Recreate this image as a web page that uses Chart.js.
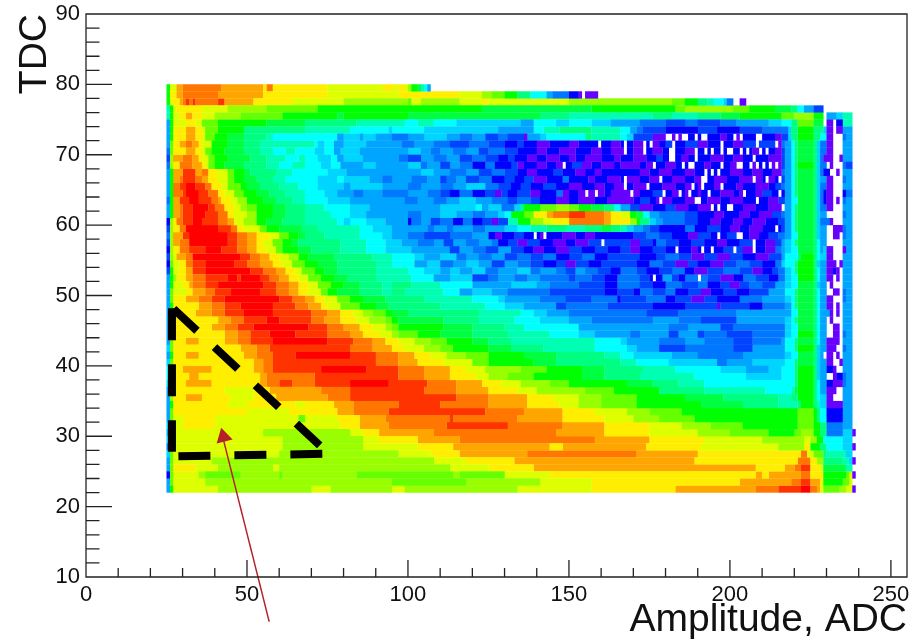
<!DOCTYPE html>
<html>
<head>
<meta charset="utf-8">
<title>TDC vs Amplitude</title>
<script src="https://cdn.jsdelivr.net/npm/chart.js@4/dist/chart.umd.min.js"></script>
<style>
body { margin: 0; background: #fff; }
canvas { display: block; }
</style>
</head>
<body>
<canvas id="chart" width="911" height="644"></canvas>
<script>
// colour level of each cell (a = lowest, s = highest)
const levelNames = "abcdefghijklmnopqrs".split("");
const levelColors = ["#6600ff","#0000ff","#0044ff","#0077ff","#00a5ff","#00d5ff","#00ffff","#00ffb3","#00ff80","#00ff40",
  "#00ff00","#66ff00","#99ff00","#ddff00","#ffee00","#ffa500","#ff7700","#ff3300","#ff0000"];

// TDC bins, top row first
const tdcBins = [79,78,77,76,75,74,73,72,71,70,69,68,67,66,65,64,63,62,61,60,59,58,57,56,55,54,53,52,51,
  50,49,48,47,46,45,44,43,42,41,40,39,38,37,36,35,34,33,32,31,30,29,28,27,26,25,24,23,22];

// one string per TDC bin: level letter + amplitude where that level starts, "_" = empty
const rowRuns = [
"k25 n26 p28 q30 p42 o55 q56 o58 n75 o92 n96 o97 n99 m100 k101 j103 h104 g105 e106 _107",
"k25 o26 p28 q30 p41 o55 n75 o97 n116 m123 l126 k130 i134 g138 e143 d145 b150 a153 _154 a155 _159",
"k25 n26 o27 p29 q30 r31 q32 r33 q34 r41 p43 o52 n64 m80 l100 n101 m104 n116 o123 n125 m150 l182 k186 i190 h193 g195 f198 d199 _201 a203 _205",
"h25 k26 n27 o28 n36 m44 l56 k72 j123 k157 l183 m186 l201 k206 j214 i219 g221 e223 c226 _229",
"h25 k26 n27 o29 p31 o33 n36 m40 l48 k61 j78 k80 j100 i141 h150 i176 h182 i190 j197 k203 l216 m220 k226 _229 e230 f233 h235 _238",
"e25 k26 n27 o31 n34 l36 k41 j56 i68 h84 g99 h103 g108 f115 e135 g139 f146 g150 f157 e163 d172 c180 d186 c190 d197 e202 f212 g216 i219 l221 j226 _229 a230 _232 b233 h235 _238",
"e25 k26 o27 p31 o34 n36 l37 k41 i49 h68 g82 f94 g95 f105 e128 g139 h142 i147 h157 g166 e169 d171 c173 b180 c190 b196 c203 d210 f218 i219 k221 i226 f229 a230 _232 a233 e235 _238",
"e25 k26 o27 p31 o34 n36 l37 k40 j44 i49 h56 g58 e78 f80 e85 f86 e90 d95 e100 f105 e112 d116 e120 c124 d128 c131 a136 e137 f141 g143 i155 h157 g166 f168 c170 a176 _180 a182 _183 a184 _185 b187 _189 b190 _191 b193 a197 b199 _201 a202 _203 b204 _208 b210 a214 c216 f218 i219 k221 i226 g228 a230 _232 d235 e236 _238",
"e25 l26 o27 p29 q31 p33 o35 n36 k39 j44 i49 h54 g71 f72 g74 e77 f80 e87 d98 e102 d108 c113 d119 c125 b130 c134 b136 a140 b144 a150 b153 _159 b160 a163 b166 _167 b168 a170 _173 b174 _175 a176 b178 c180 _182 b183 c186 a190 b193 _197 b198 a201 c204 _208 c209 _214 a215 d216 e217 g219 i220 j221 i226 f227 d228 a230 _232 e235 _238",
"d25 l26 o27 p31 o34 n36 l37 k39 j43 i49 h54 g58 h62 g65 f71 g74 e77 f79 e85 f100 e104 d107 e110 d114 e118 c122 d125 c130 b134 a140 b143 a147 b152 a157 b160 a163 _167 b168 a170 _173 b174 a176 b179 _181 b183 a186 _189 b190 _192 b193 _194 b195 _197 b198 _199 b201 _203 b204 _205 b206 a207 _209 b210 _211 b212 a214 c216 e217 g219 i220 j221 i226 f227 d228 a230 _232 e235 _238",
"c25 m26 p27 q30 p33 o35 n36 l38 k40 j44 i51 h56 g62 h66 g68 f72 g76 e78 f80 e86 d97 c100 e104 d108 e112 c116 d120 c124 b128 c131 b133 a137 b140 a143 b147 a150 b152 a155 b160 a164 b166 a170 b174 c177 b179 _181 b183 a185 b187 _189 b190 a194 b198 a201 b204 _207 b208 a212 c216 e217 g219 i220 j221 i226 f227 d228 a229 _232 a234 e235 _238",
"d25 m26 o27 q29 p33 o36 n37 l38 k40 j43 i49 h56 g60 h64 g68 f73 g76 e79 f86 e90 f100 d104 e106 c110 e113 d116 b120 d124 b127 c132 a134 b136 a140 b143 a146 _148 b149 c151 a154 b157 a160 b164 a166 b172 a174 _176 b177 a180 b183 _185 b186 _187 b189 a192 b194 _197 b198 a200 _202 b204 _206 a207 _208 b209 _210 b211 _212 a213 _214 a215 c216 e217 g219 i220 k221 i226 f227 d228 _230 a231 _232 d235 c236 _238",
"e25 k26 p27 r30 p34 q36 o38 n41 l44 k46 j49 i51 h59 g64 f75 e81 e100 f104 e108 d113 e118 c122 d126 c130 b134 a137 b140 c145 b148 a152 b155 a158 b160 a172 b175 a178 b182 a186 b189 _192 b193 _194 b195 _196 b197 a200 b204 a207 b210 a213 d216 e217 g219 i220 j221 i226 f227 d228 b229 _231 a233 _234 e235 _238",
"e25 k26 p27 q29 r30 q34 p36 o38 n41 l44 k46 j49 i53 h58 g62 f72 g78 f80 e88 d92 e95 d101 e106 c110 d112 e115 c118 d122 b126 c130 b133 c136 a139 b143 d148 b150 a156 b158 a162 b166 _167 a168 b172 a175 _178 b179 a182 b186 a189 _191 b193 a195 b199 a203 _207 a208 b210 _211 a212 b214 _215 c216 e217 g219 i220 j221 i226 f227 e228 a230 _232 d235 e236 _238",
"e25 k26 q27 r29 s31 r34 q37 o39 n42 l44 k48 j50 i54 h60 g66 f72 e80 f82 e92 d100 e104 d110 e114 f118 d124 c128 b132 c135 b138 c142 b146 a150 b154 a158 b161 a164 _167 b168 a170 _174 b175 a179 b183 a186 _188 b189 a190 _191 b192 a195 _197 b198 a202 b204 a208 b212 c214 d216 e217 g219 i220 j221 i226 f227 d228 a230 _232 e235 _238",
"e25 k26 q27 r30 s31 r35 q38 o41 n43 l46 k49 j53 i57 h62 g68 f74 e78 d83 e86 d92 e100 d106 c110 b113 d116 b120 c124 a127 c129 b131 c134 a138 b141 d146 a148 b150 a153 _155 a156 _158 a159 b161 a163 _169 a170 b172 c176 _179 b180 a182 _184 b185 a186 _187 b188 a190 b191 _193 b194 a197 b201 a203 _204 b205 a208 c210 b213 _215 b216 e217 g219 i220 j221 i226 f227 d228 b229 a230 _232 b235 d236 _238",
"d25 k26 p27 r29 s32 r35 q39 p41 o42 n45 m47 k50 j55 i59 h64 g68 f75 e82 d99 e103 d108 e112 f116 e121 d126 c131 d134 c138 b141 a146 b150 a153 b158 a162 b170 c172 b175 a177 _178 a179 b182 a186 _189 b191 a193 b197 a200 b204 _208 b209 a212 c215 e217 g219 j221 i226 f227 d228 b229 a230 _232 a233 _234 d235 e236 _238",
"e25 k26 p27 q29 r30 s33 r38 q40 o43 n46 m48 l50 k53 j58 i62 h68 g74 f82 e88 f110 g121 e123 f125 d129 f133 i135 k136 l141 m146 l150 k153 j157 i161 g164 e166 c169 a172 b176 c180 a183 b187 a190 _194 b195 _196 b197 _199 b201 a204 b208 a212 _216 e217 g219 i220 j221 i226 f227 d228 a230 _232 e235 _238",
"e25 k26 p27 q29 r30 s33 r37 q41 o44 n46 m50 k53 j58 i62 h68 g76 f82 e87 d100 e104 f110 e115 d120 e124 f128 g130 k132 l136 o139 p143 q145 r150 q155 p161 o163 n166 k169 j171 g173 e175 d178 c186 b190 a195 b198 a203 b206 a209 c213 d216 e217 g219 i220 j221 i226 f227 e228 _230 d235 e236 _238",
"b25 m26 o27 q28 r30 s33 r36 q41 p44 n46 m49 k53 j56 i61 h68 g78 f80 g82 f87 e93 b100 d101 e104 c107 d110 b114 d117 b120 c123 a126 c128 h131 k134 m138 n142 o145 q150 p161 o163 m169 k171 i172 f175 e177 d179 c186 b190 a194 b197 a201 b204 a207 b211 c215 e217 g219 i220 j221 i226 f227 d228 a231 _232 e235 _238",
"c25 m26 o27 q29 s31 r41 q45 o47 n49 l54 k56 j60 i67 h72 g85 f89 e95 d106 e108 d112 e114 d120 e124 f130 g134 h138 i143 h149 i155 j160 i163 h166 f168 e170 d173 c175 b178 d186 b189 c193 b197 a200 b203 a206 b210 _214 b215 c216 e217 g219 i220 j221 i226 f227 e228 _230 a232 d235 e236 _238",
"d25 m26 p27 r30 s32 r44 q47 p50 o53 n57 l60 k63 j66 i68 h74 g85 f92 e95 d100 c105 d113 e120 b125 a127 b129 c133 b136 _139 b140 a141 _142 b143 a148 b152 a155 b158 c170 d174 c178 b182 a187 c190 b194 _196 b197 c199 _202 b204 a206 b209 c212 d215 e217 g219 j221 i226 f227 e228 _230 a232 _234 d235 e236 _238",
"c25 m26 p27 q29 s32 r44 q47 p50 o53 n55 l58 k61 j64 i66 h79 g87 f93 e98 d103 e108 c111 e114 d118 e122 d126 b128 c131 a134 c137 b141 a145 b149 a152 c156 _160 c161 a169 c172 b176 d177 c180 b184 c188 b192 a196 b199 c203 _207 b208 a211 c214 e216 f217 g219 i220 j221 i226 g227 e228 _230 e235 _238",
"b25 m26 o27 q29 r32 s37 r42 q47 p50 o53 n56 l59 k61 j66 i70 h79 g87 f93 e101 e108 c113 e116 d120 c124 e128 c132 b136 a139 b142 a146 c150 b154 c158 b162 c166 a169 b172 c176 b180 _183 b184 a188 b190 _191 b192 _194 b195 c198 _201 c202 a204 _207 b208 a211 d214 e216 f217 g219 j221 i226 g227 e228 f229 a230 _232 a235 e236 _238",
"c25 m26 n27 p28 q31 s33 r48 q51 p54 o57 n60 m63 k66 j69 i77 h89 g95 f102 e105 f110 d115 e118 d122 e126 c130 d134 c138 d142 b146 c150 d154 b158 c162 b172 c177 d180 c184 a188 c192 a196 c200 b204 a208 c212 e216 g217 i221 k222 i226 g227 f228 a230 _232 e235 _238",
"b25 l26 n27 o29 q31 r33 s37 r46 q50 p54 o58 n61 l64 k68 j72 i78 h90 g95 e102 f106 d110 e114 f118 e122 c126 e130 d134 c138 b142 c146 a149 c152 b156 c160 b171 d175 c179 a183 c187 b190 a194 c198 d202 c206 b210 d214 f216 g217 i220 k221 i226 f227 e228 a230 _233 a234 e235 _238",
"c25 k26 n27 o29 p31 r33 s37 r51 q55 p59 o62 n65 l67 k71 j74 i78 h90 g100 f105 e110 f113 e116 f120 d124 e128 f134 d138 e141 d146 c149 e152 d155 c159 b163 d166 c171 b174 c178 d182 b186 a189 c193 d198 c203 a207 b210 c213 d215 f217 g219 i220 k221 i226 g227 e228 a230 b232 a233 _234 e235 _238",
"e25 k26 m27 o28 p31 q33 r37 s44 r47 s48 r54 q57 p60 o63 n66 l69 k73 j77 i81 h90 g101 e108 f113 c120 d125 e128 d133 e137 d141 c150 d152 c157 b161 d165 c172 b175 _176 b177 e179 c182 b184 d186 _190 d191 c193 a197 b201 d204 c208 b212 d215 f217 g219 k221 i226 g227 e228 a230 _232 a233 _234 e235 _238",
"e25 k26 n27 o30 p32 q33 r37 s41 r55 q59 p63 o66 n69 l72 k76 j80 i85 h92 i95 h101 g110 e120 f132 e140 d144 c153 b161 d165 c172 b176 d180 c185 d190 b193 c197 a200 c203 d206 c210 e214 f217 g219 j221 i226 f227 e228 _230 a231 _232 e235 _238",
"e25 l26 n27 o31 p33 q37 r40 s45 r54 q59 p63 o66 n69 l73 k75 j78 i85 h92 i95 h99 g111 e116 f120 e126 d131 c144 b161 c165 b170 d172 c176 d180 b183 c187 a191 b194 c198 b202 c206 e212 g217 i220 j221 i226 g227 e228 _230 a232 _234 d235 e236 _238",
"e25 l26 o27 p31 q35 r39 s43 r60 q64 p68 o71 n74 l78 k82 j86 i93 h105 g120 f128 e130 d141 c149 d157 b165 c166 d174 b180 c183 a188 c192 b196 d203 e210 f217 g219 i220 j221 i226 g227 e228 a230 _232 d235 e236 _238",
"e25 k26 o27 p35 q39 r43 s48 r58 q65 p69 o73 n75 l79 k85 j90 i94 h110 g124 f130 e136 c146 d149 c162 b176 c186 a196 c197 b206 d210 e217 g219 i220 j221 i226 g227 e228 a230 _232 a233 _234 e235 _238",
"e25 k26 o27 p34 q39 r43 s49 r58 q70 p75 o79 n83 m86 l89 k93 j95 i100 h122 g135 f139 e143 d150 c174 d184 e202 g219 j221 i226 g227 e228 a231 _232 a233 _234 e235 _238",
"e25 l26 o27 p41 q45 r49 s56 r60 q70 p74 o79 n84 m88 l93 k95 j97 i111 h122 g133 f141 e150 d157 e176 d184 c191 e202 f217 g219 i220 j221 i226 g227 e228 _230 a231 _232 e235 _238",
"e25 l26 o27 p39 q43 r47 s52 r69 q75 p80 o85 n89 m93 l95 k97 j111 i120 h130 g136 e153 d181 e187 c197 d201 f217 g219 j221 i226 g227 e228 _230 a232 _234 e235 _238",
"e25 k26 o27 p43 q47 r51 s57 r65 q75 p82 o86 n91 m95 l97 k103 j110 i120 h131 g144 f153 e158 d169 e172 c181 e184 c190 d192 c199 d207 f217 g219 k221 i226 g227 e228 _230 a232 _234 d235 e236 _238",
"e25 l26 o27 p31 o35 p43 q47 r51 s58 r75 q83 p89 o93 n97 m102 l107 k112 j120 i125 h132 g158 f166 e168 d178 e186 d192 c201 d207 e216 g217 i220 j221 i226 g227 e228 a230 _234 e235 _238",
"f25 l26 o27 p48 q53 r57 q82 p89 o95 n99 m105 l110 k114 j125 i132 h142 g158 f168 e171 c178 d186 c201 e207 g217 i220 k221 i226 f227 e228 a230 _233 d235 e236 _238",
"e25 k26 o27 p31 o35 p49 q53 r58 s65 r82 q90 p97 o102 n107 m112 l118 k125 j136 i146 h161 g166 f170 e182 d190 e204 f217 g219 j221 i226 f227 e228 _229 a230 _232 a233 _234 e235 _238",
"f25 l26 o27 p52 q55 r58 q90 p97 o103 n111 l120 k125 j139 i146 h166 g171 f181 d196 e199 f207 g217 i220 j221 i226 f227 e228 a230 _232 a234 e235 _238",
"g25 l26 o27 p30 o39 p52 q55 r58 s73 r87 q97 p105 o113 n118 m124 l135 k143 j154 i161 h173 g183 f197 e205 f212 g216 i220 k221 i226 f227 e228 b230 a232 _233 e235 _238",
"g25 l26 o27 p32 o35 p54 q56 r71 q97 p105 o113 n121 m125 l131 k139 j154 i161 h172 g189 f205 g216 i220 k221 i226 f227 e228 _230 a232 b233 d235 e236 _238",
"f25 l26 o27 p31 o39 p54 q56 r60 q64 r71 s82 r94 q106 p115 o123 n129 m135 l144 k150 j168 i176 h184 g192 i220 k221 i226 g227 e228 b230 a232 d235 e236 _238",
"e25 l26 o27 n43 o52 p57 q73 r82 q105 p115 o125 n134 m140 l155 k164 i178 h192 g211 h219 j220 k221 i226 g227 e228 a230 _233 e235 _238",
"e25 m26 o27 p31 o36 n45 o52 p59 q75 r82 q115 p125 o137 n145 m153 l160 k171 j186 i198 h215 i219 k221 i226 g227 f228 a230 _232 e235 _238",
"e25 k26 o27 n44 o50 n65 o68 p77 q83 r97 q110 p125 o137 n147 m153 l160 k171 j191 i204 h215 i221 k222 i226 h227 f228 a230 e235 _238",
"e25 l26 o27 n50 o63 p78 q83 r94 q124 p136 o148 n158 m168 l175 k185 l221 k226 i227 g228 b230 e235 _238",
"e25 l26 n27 o30 n40 l66 n68 o78 p85 q93 r113 q114 p134 o148 n161 m170 l178 k189 l221 k226 i227 g228 b230 e235 _238",
"f25 k26 n27 o30 n40 o79 p85 q94 r112 q131 p148 o161 n175 m185 l194 k204 l221 k226 i228 d230 e235 _238",
"e25 l26 n27 m55 n82 o86 p91 q108 p146 o161 n175 m190 l200 k212 l220 m222 k226 i228 d230 f235 a238 _239",
"f25 l26 n27 m61 n86 o91 p103 q116 p158 o175 n192 m210 n223 m225 k227 g229 f235 _238",
"d25 l26 n27 m61 n86 o103 p114 o144 p148 o174 n191 m215 o223 k225 i228 g230 f235 a238 _239",
"f25 l26 n27 m60 n97 o107 p116 q137 p171 o190 q222 n224 l226 i229 h230 f236 _238",
"e25 l26 n27 m39 n108 o118 p133 o189 q221 o225 m227 i229 h235 f237 a238 _239",
"e25 l26 o27 n34 m41 n58 m60 n113 o125 p139 o208 p217 q220 r222 o225 n228 j229 h236 _238",
"b25 l26 n27 m35 l37 m48 l60 m61 l84 m114 l116 n130 o144 p208 o210 p212 q222 o225 k229 l236 n237 a238 _239",
"e25 l26 n27 m37 l95 m118 n141 o157 p203 q219 r222 p225 o228 k229 l235 n237 _238",
"e25 k26 n27 m41 n70 m76 n95 m99 n134 o157 p183 q208 r215 s222 q225 p227 n228 l229 m234 n236 a238 _239"
];

// dashed triangle and arrow, in chart units
const triangleLeft = [{x:26.7,y:48.2},{x:26.7,y:27.8}];
const triangleBottom = [{x:28.7,y:27.15},{x:73.4,y:27.5}];
const triangleDiagonal = [{x:27.2,y:48.1},{x:73.3,y:28.4}];
const arrowLine = [{x:56.9,y:3.65},{x:42.3,y:30.2}];
const arrowHead = [{x:42.7,y:29.9}];

const xMajorTicks = [0,50,100,150,200,250];
const xMinorTicks = [10,20,30,40,60,70,80,90,110,120,130,140,160,170,180,190,210,220,230,240];
const yMajorTicks = [10,20,30,40,50,60,70,80,90];
const yMinorTicks = [12,14,16,18,22,24,26,28,32,34,36,38,42,44,46,48,52,54,56,58,62,64,66,68,72,74,76,78,82,84,86,88];

// turn the runs into floating bars, one dataset per colour level
const levelBars = levelNames.map(() => []);
rowRuns.forEach((row, i) => {
    const tokens = row.split(" ");
    for (let t = 0; t < tokens.length - 1; t++) {
        const name = tokens[t][0];
        if (name === "_") continue;
        const start = Number(tokens[t].slice(1));
        const end = Number(tokens[t + 1].slice(1));
        levelBars[levelNames.indexOf(name)].push({ x: [start, end + 0.08], y: tdcBins[i] + 0.5 });
    }
});

const barDatasets = levelBars.map((bars, i) => ({
    type: "bar",
    data: bars,
    backgroundColor: levelColors[i],
    barPercentage: 1.04,
    categoryPercentage: 1,
    grouped: false,
    order: 10 + i
}));

function dashedLine(points) {
    return {
        type: "scatter",
        data: points,
        showLine: true,
        borderColor: "#000",
        borderWidth: 8,
        borderDash: [32, 24],
        pointRadius: 0,
        order: 2
    };
}

// ROOT style frame: ticks point inwards, long on the majors
const frameTicks = {
    id: "frameTicks",
    afterDatasetsDraw(chart) {
        const { ctx, chartArea: a, scales: { x, y } } = chart;
        ctx.save();
        ctx.strokeStyle = "#222";
        ctx.lineWidth = 1.3;
        ctx.beginPath();
        ctx.rect(a.left, a.top, a.right - a.left, a.bottom - a.top);
        xMajorTicks.forEach(v => { const p = x.getPixelForValue(v); ctx.moveTo(p, a.bottom); ctx.lineTo(p, a.bottom - 17); });
        xMinorTicks.forEach(v => { const p = x.getPixelForValue(v); ctx.moveTo(p, a.bottom); ctx.lineTo(p, a.bottom - 9); });
        yMajorTicks.forEach(v => { const p = y.getPixelForValue(v); ctx.moveTo(a.left, p); ctx.lineTo(a.left + 26, p); });
        yMinorTicks.forEach(v => { const p = y.getPixelForValue(v); ctx.moveTo(a.left, p); ctx.lineTo(a.left + 13.5, p); });
        ctx.stroke();
        ctx.restore();
    }
};

const labelFont = { family: "'Liberation Sans'", size: 22 };
const titleFont = { family: "'Liberation Sans'", size: 39 };

new Chart(document.getElementById("chart"), {
    type: "bar",
    data: {
        datasets: [
            dashedLine(triangleLeft),
            dashedLine(triangleBottom),
            dashedLine(triangleDiagonal),
            {
                type: "scatter",
                data: arrowLine,
                showLine: true,
                borderColor: "#b5202a",
                borderWidth: 1.5,
                pointRadius: 0,
                clip: false,
                order: 1
            },
            {
                type: "scatter",
                data: arrowHead,
                pointStyle: "triangle",
                pointRadius: 9.5,
                pointRotation: -14,
                backgroundColor: "#b5202a",
                borderWidth: 0,
                order: 0
            },
            ...barDatasets
        ]
    },
    options: {
        responsive: false,
        animation: false,
        datasets: { bar: { indexAxis: "y" } },
        layout: { autoPadding: false, padding: { top: 14, right: 4, left: 0, bottom: 0 } },
        plugins: { legend: { display: false }, tooltip: { enabled: false } },
        scales: {
            x: {
                type: "linear",
                offset: false,
                min: 0,
                max: 255,
                grid: { display: false, drawTicks: false },
                border: { display: false },
                afterFit(scale) { scale.height = 67; scale.paddingLeft = 0; scale.paddingRight = 0; },
                ticks: { stepSize: 50, includeBounds: false, maxRotation: 0, color: "#111", font: labelFont, padding: 5 },
                title: { display: true, text: "Amplitude, ADC", align: "end", color: "#111", font: titleFont, padding: 0 }
            },
            y: {
                type: "linear",
                offset: false,
                min: 10,
                max: 90,
                grid: { display: false, drawTicks: false },
                border: { display: false },
                afterFit(scale) { scale.width = 86; scale.paddingTop = 0; scale.paddingBottom = 0; },
                ticks: { stepSize: 10, color: "#111", font: labelFont, padding: 6 },
                title: { display: true, text: "TDC", align: "end", color: "#111", font: titleFont, padding: { top: 12, bottom: 0 } }
            }
        }
    },
    plugins: [frameTicks]
});
</script>
</body>
</html>
